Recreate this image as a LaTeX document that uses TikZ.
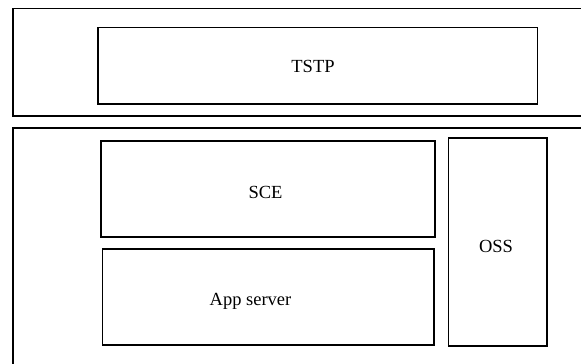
\documentclass[tikz,border=0pt]{standalone}
\usepackage{fontspec}
\setmainfont{Liberation Serif}
\begin{document}
\begin{tikzpicture}[x=1pt,y=-1pt,
  box/.style={draw=black,line width=1.3pt},
  lbl/.style={font=\fontsize{18.5}{22}\selectfont,inner sep=0pt,anchor=center}]
\useasboundingbox (0,0) rectangle (581,364);
\clip (0,0) rectangle (581,364);
\draw[box] (13,8.5) rectangle (600,116);
\draw[box] (13,128) rectangle (600,390);
\draw[box] (98,27.5) rectangle (537.5,104);
\draw[box] (101,141) rectangle (435,237);
\draw[box] (102.5,249) rectangle (434,345);
\draw[box] (448.5,138) rectangle (547,346);
\node[lbl] (tstp) at (313,66) {TSTP};
\node[lbl] (sce) at (265.5,192) {SCE};
\node[lbl] (app) at (250.5,301) {App server};
\node[lbl] (oss) at (496,246.5) {OSS};
\end{tikzpicture}
\end{document}
